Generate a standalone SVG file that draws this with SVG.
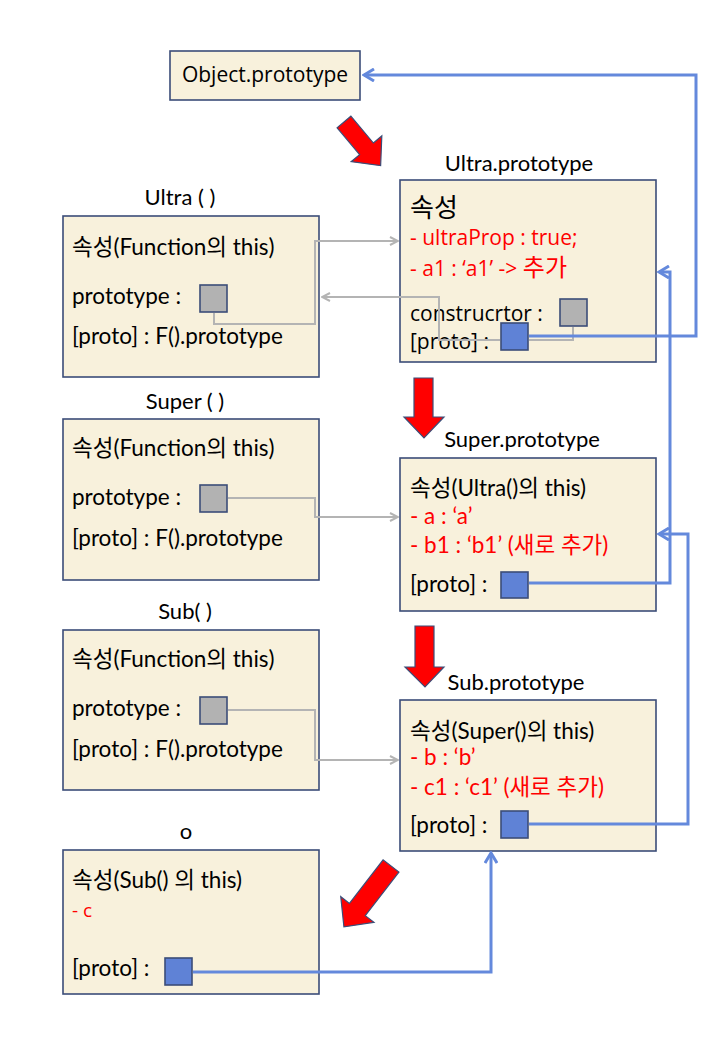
<svg xmlns="http://www.w3.org/2000/svg" width="720" height="1040" viewBox="0 0 720 1040">
<defs>
<style>
.box{fill:#F8F1DC;stroke:#3B4D78;stroke-width:1.6}
.gsq{fill:#B2B2B2;stroke:#3B4D78;stroke-width:1.6}
.bsq{fill:#5F82D6;stroke:#3B4D78;stroke-width:1.6}
.gl{fill:none;stroke:#B4B4B4;stroke-width:2}
.bl{fill:none;stroke:#6489DC;stroke-width:3}
.red{fill:#FF0000;stroke:#3B4D78;stroke-width:1.2}
text{font-family:"Lato","Noto Sans CJK KR",sans-serif;font-size:22.5px;fill:#000}
.lbl{text-anchor:middle;font-size:22px}
.w{font-family:"Open Sans","Noto Sans CJK KR",sans-serif;font-size:21px}
.r{fill:#FF0000}
</style>
<marker id="ga" viewBox="0 0 10 10" refX="9" refY="5" markerWidth="10" markerHeight="10" markerUnits="userSpaceOnUse" orient="auto">
<path d="M1,1 L9,5 L1,9" fill="none" stroke="#B4B4B4" stroke-width="2"/>
</marker>
<marker id="ba" viewBox="0 0 14 14" refX="12" refY="7" markerWidth="14" markerHeight="14" markerUnits="userSpaceOnUse" orient="auto">
<path d="M2,1 L12,7 L2,13" fill="none" stroke="#6489DC" stroke-width="3"/>
</marker>
</defs>

<g id="arrows">
<polygon class="red" transform="translate(344,122) rotate(50)" points="0,-9 35,-9 35,-20 57,0 35,20 35,9 0,9"/>
<polygon class="red" points="414,378 433,378 433,417 444,417 424,438 404,417 414,417"/>
<polygon class="red" points="415,626 434,626 434,667 444,667 425,687 405,667 415,667"/>
<polygon class="red" transform="translate(391,866) rotate(127.7)" points="0,-10 55,-10 55,-21 77,0 55,21 55,10 0,10"/>
</g>

<g id="object-prototype">
<rect class="box" x="170" y="51" width="190" height="49"/>
<text class="w" x="265" y="82" text-anchor="middle">Object.prototype</text>
</g>

<g id="ultra">
<text class="lbl" x="180" y="205">Ultra ( )</text>
<rect class="box" x="63" y="216" width="256" height="161"/>
<text x="72" y="255">속성(Function의 this)</text>
<text x="72" y="304">prototype :</text>
<rect class="gsq" x="200" y="285" width="27" height="27"/>
<text x="72" y="344">[proto] : F().prototype</text>
</g>

<g id="ultra-prototype">
<text class="lbl" x="519" y="171">Ultra.prototype</text>
<rect class="box" x="400" y="180" width="256" height="182"/>
<text x="410" y="217" style="font-size:26px">속성</text>
<text class="w r" x="410" y="245">- ultraProp : true;</text>
<text class="w r" x="410" y="276">- a1 : ‘a1’ -&gt; <tspan style="font-size:24px">추가</tspan></text>
<text class="w" x="410" y="321">construcrtor :</text>
<rect class="gsq" x="560" y="299" width="27" height="27"/>
<text class="w" x="410" y="349">[proto] :</text>
<rect class="bsq" x="501" y="323" width="27" height="27"/>
</g>

<g id="super">
<text class="lbl" x="185" y="409">Super ( )</text>
<rect class="box" x="63" y="419" width="256" height="161"/>
<text x="72" y="456">속성(Function의 this)</text>
<text x="72" y="505">prototype :</text>
<rect class="gsq" x="200" y="485" width="27" height="27"/>
<text x="72" y="546">[proto] : F().prototype</text>
</g>

<g id="super-prototype">
<text class="lbl" x="522" y="447">Super.prototype</text>
<rect class="box" x="400" y="458" width="256" height="153"/>
<text x="410" y="496">속성(Ultra()의 this)</text>
<text class="r" x="410" y="524">- a : ‘a’</text>
<text class="r" x="410" y="553">- b1 : ‘b1’ (새로 추가)</text>
<text x="410" y="592">[proto] :</text>
<rect class="bsq" x="501" y="572" width="27" height="26"/>
</g>

<g id="sub">
<text class="lbl" x="185" y="619">Sub( )</text>
<rect class="box" x="63" y="630" width="256" height="160"/>
<text x="72" y="667">속성(Function의 this)</text>
<text x="72" y="716">prototype :</text>
<rect class="gsq" x="200" y="697" width="27" height="27"/>
<text x="72" y="757">[proto] : F().prototype</text>
</g>

<g id="sub-prototype">
<text class="lbl" x="516" y="690">Sub.prototype</text>
<rect class="box" x="400" y="700" width="256" height="151"/>
<text x="410" y="739">속성(Super()의 this)</text>
<text class="r" x="410" y="765">- b : ‘b’</text>
<text class="r" x="410" y="795">- c1 : ‘c1’ (새로 추가)</text>
<text x="410" y="833">[proto] :</text>
<rect class="bsq" x="501" y="811" width="27" height="27"/>
</g>

<g id="o">
<text class="lbl" x="186" y="839">o</text>
<rect class="box" x="63" y="850" width="256" height="144"/>
<text x="72" y="888">속성(Sub() 의 this)</text>
<text class="w r" x="72" y="917" style="font-size:19px">- c</text>
<text x="72" y="976">[proto] :</text>
<rect class="bsq" x="165" y="958" width="27" height="27"/>
</g>

<g id="connectors">
<path class="gl" d="M214,313 V324 H315 V241 H398" marker-end="url(#ga)"/>
<path class="gl" d="M573,327 V340 H529"/>
<path class="gl" d="M500,340 H439 V297 H322" marker-end="url(#ga)"/>
<path class="gl" d="M228,498 H315 V517 H398" marker-end="url(#ga)"/>
<path class="gl" d="M228,710 H315 V760 H398" marker-end="url(#ga)"/>
<path class="bl" d="M529,336 H696 V75 H364" marker-end="url(#ba)"/>
<path class="bl" d="M529,583 H670 V272 H659" marker-end="url(#ba)"/>
<path class="bl" d="M529,824 H688 V534 H659" marker-end="url(#ba)"/>
<path class="bl" d="M193,972 H491 V853" marker-end="url(#ba)"/>
</g>
</svg>
